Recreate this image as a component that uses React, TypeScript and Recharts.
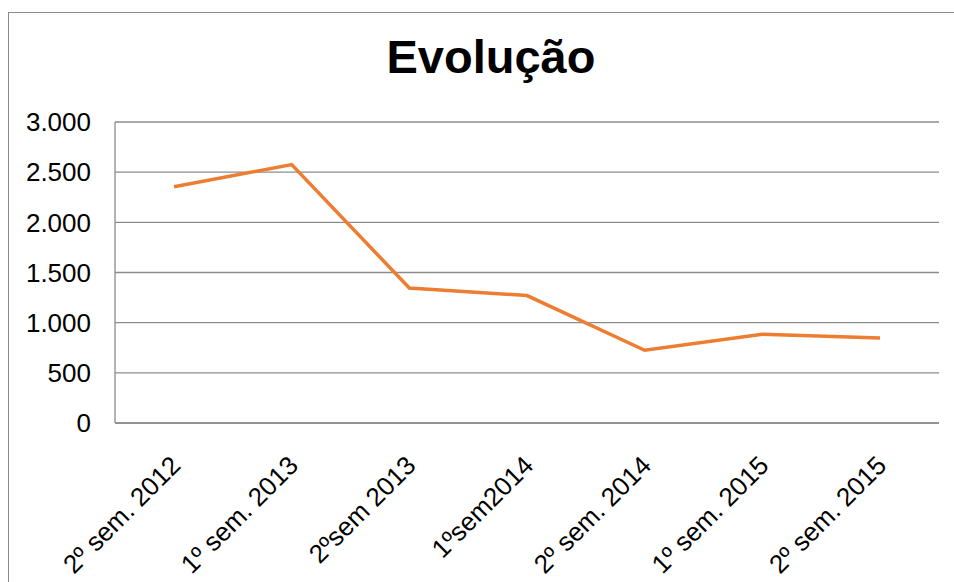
import { LineChart, Line, XAxis, YAxis, CartesianGrid } from 'recharts';

const categories = [
  '2º sem. 2012',
  '1º sem. 2013',
  '2ºsem 2013',
  '1ºsem2014',
  '2º sem. 2014',
  '1º sem. 2015',
  '2º sem. 2015',
];

const values = [2355, 2575, 1345, 1270, 725, 885, 848];

const yTicks = [0, 500, 1000, 1500, 2000, 2500, 3000];

const data = categories.map((name, i) => ({ name, value: values[i] }));

const FONT = '"Liberation Sans", Arial, sans-serif';
const GRID = '#8c8c8c';

const formatPt = (n: number) => n.toString().replace(/\B(?=(\d{3})+(?!\d))/g, '.');

function AngledTick({ x, y, payload }: any) {
  return (
    <g transform={`translate(${x + 8},${y + 36})`}>
      <text
        transform="rotate(-45)"
        textAnchor="end"
        fontFamily={FONT}
        fontSize={26}
        fill="#000"
      >
        {payload.value}
      </text>
    </g>
  );
}

export default function App() {
  return (
    <div
      style={{
        position: 'fixed',
        left: 0,
        top: 0,
        width: 954,
        height: 582,
        overflow: 'hidden',
        background: '#fff',
      }}
    >
      <div
        style={{
          position: 'absolute',
          left: 8,
          top: 12,
          width: 1200,
          height: 1200,
          border: '1px solid #8a8a8a',
          boxSizing: 'border-box',
        }}
      />
      <LineChart
        width={954}
        height={582}
        data={data}
        margin={{ top: 122, right: 15, left: 0, bottom: 0 }}
        style={{ position: 'absolute', left: 0, top: 0 }}
      >
        <text
          x={491}
          y={73}
          textAnchor="middle"
          fontFamily={FONT}
          fontWeight="bold"
          fontSize={47}
          fill="#000"
        >
          Evolução
        </text>
        <CartesianGrid vertical={false} stroke={GRID} strokeWidth={1.3} />
        <XAxis
          dataKey="name"
          height={159}
          padding={{ left: 59, right: 59 }}
          tickLine={false}
          axisLine={{ stroke: GRID, strokeWidth: 1.3 }}
          tick={<AngledTick />}
          interval={0}
        />
        <YAxis
          width={115}
          domain={[0, 3000]}
          ticks={yTicks}
          tickFormatter={formatPt}
          tickLine={false}
          tickSize={0}
          tickMargin={24}
          axisLine={{ stroke: GRID, strokeWidth: 1.3 }}
          tick={{ fontFamily: FONT, fontSize: 26, fill: '#000' }}
        />
        <Line
          dataKey="value"
          stroke="#ED7D31"
          strokeWidth={3.5}
          dot={false}
          isAnimationActive={false}
        />
      </LineChart>
    </div>
  );
}
